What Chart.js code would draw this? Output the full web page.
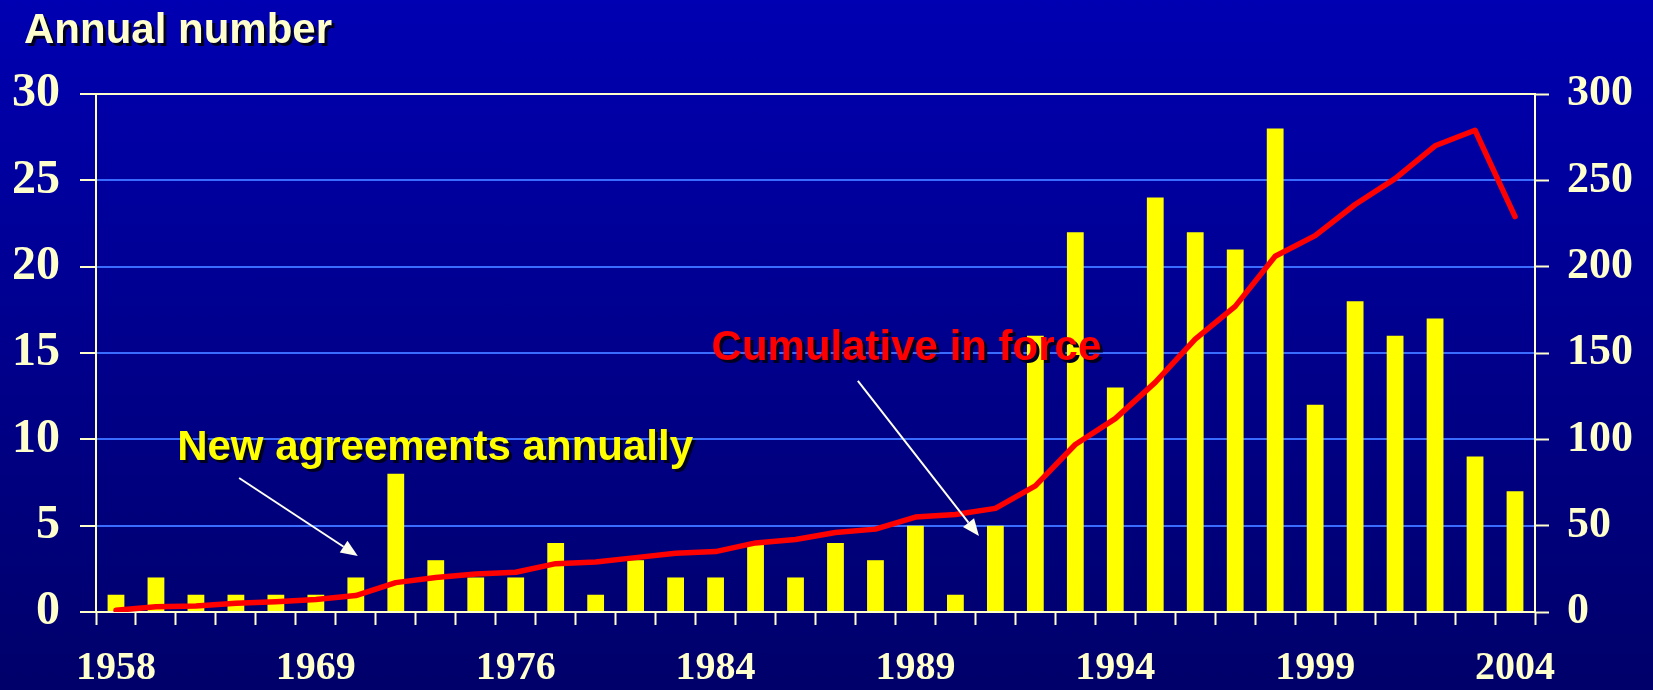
<!DOCTYPE html>
<html><head><meta charset="utf-8">
<script src="https://cdn.jsdelivr.net/npm/chart.js@4/dist/chart.umd.min.js"></script>
<style>
html,body{margin:0;padding:0;width:1653px;height:690px;overflow:hidden;
background:linear-gradient(to bottom,#0000b2 0%,#000090 45%,#00006a 100%);}
canvas{display:block}
</style></head><body>
<canvas id="c" width="1653" height="690"></canvas>
<script>
// ---- data ----
const tickLabels = ['1958','1969','1976','1984','1989','1994','1999','2004'];
const labelEvery = 5;
const categoryCount = 36;
const newAgreements = [1,2,1,1,1,1,2,8,3,2,2,4,1,3,2,2,4,2,4,3,5,1,5,16,22,13,24,22,21,28,12,18,16,17,9,7];
const cumulativeInForce = [1,3,3.5,5,6,7.3,9.5,17,20,22,23,28,29,31.5,34,35,40,42,46,48,55,56.5,60,73,97,112,133,158,177,206,218,236,251,270,279,229];
const leftTicks = [0,5,10,15,20,25,30];
const rightTicks = [0,50,100,150,200,250,300];

const categories = [];
for (let i = 0; i < categoryCount; i++) categories.push(i % labelEvery === 0 ? tickLabels[i / labelEvery] : '');

const CREAM = '#ffffcc';
const GRID = '#3a6cff';

const annotations = {
  id: 'annotations',
  afterDatasetsDraw(chart) {
    const ctx = chart.ctx;
    const xs = chart.scales.x, ys = chart.scales.y;
    const X = c => xs.left + (c + 0.5) * xs.width / categoryCount;
    const Y = v => ys.getPixelForValue(v);
    function shadowText(t, x, y, color) {
      ctx.save();
      ctx.font = 'bold 42px "Liberation Sans", Arial, sans-serif';
      ctx.textBaseline = 'alphabetic';
      ctx.textAlign = 'left';
      ctx.fillStyle = '#000022';
      ctx.fillText(t, x + 3, y + 3);
      ctx.fillStyle = color;
      ctx.fillText(t, x, y);
      ctx.restore();
    }
    function arrow(x1, y1, x2, y2) {
      ctx.save();
      ctx.strokeStyle = '#ffffee';
      ctx.fillStyle = '#ffffee';
      ctx.lineWidth = 2;
      const a = Math.atan2(y2 - y1, x2 - x1);
      const L = 17, W = 7;
      const bx = x2 - L * Math.cos(a), by = y2 - L * Math.sin(a);
      ctx.beginPath(); ctx.moveTo(x1, y1); ctx.lineTo(bx, by); ctx.stroke();
      ctx.beginPath();
      ctx.moveTo(x2, y2);
      ctx.lineTo(bx + W * Math.sin(a), by - W * Math.cos(a));
      ctx.lineTo(bx - W * Math.sin(a), by + W * Math.cos(a));
      ctx.closePath(); ctx.fill();
      ctx.restore();
    }
    shadowText('Annual number', 24, 43, CREAM);
    shadowText('New agreements annually', X(1.53), Y(8.8), '#ffff00');
    shadowText('Cumulative in force', X(14.9), Y(14.6), '#ff0000');
    arrow(X(3.08), Y(7.76), X(6.05), Y(3.24));
    arrow(X(18.56), Y(13.38), X(21.59), Y(4.4));
  }
};

new Chart(document.getElementById('c'), {
  data: {
    labels: categories,
    datasets: [
      { type: 'line', label: 'Cumulative in force', data: cumulativeInForce, yAxisID: 'y1',
        borderColor: '#ff0000', borderWidth: 5.5, pointRadius: 0, tension: 0,
        borderCapStyle: 'round', borderJoinStyle: 'round', order: 0 },
      { type: 'bar', label: 'New agreements annually', data: newAgreements, yAxisID: 'y',
        backgroundColor: '#ffff00', barPercentage: 0.42, categoryPercentage: 1, order: 1 }
    ]
  },
  options: {
    responsive: false, animation: false, devicePixelRatio: 1,
    layout: { padding: { top: 94, left: 0, right: 0, bottom: 0 } },
    plugins: { legend: { display: false }, tooltip: { enabled: false }, title: { display: false } },
    scales: {
      x: {
        type: 'category', offset: true,
        grid: { offset: true, drawOnChartArea: false, tickLength: 13, tickColor: CREAM, tickWidth: 2 },
        border: { color: CREAM, width: 2 },
        ticks: { autoSkip: false, maxRotation: 0, minRotation: 0, color: CREAM, padding: 20,
          font: { family: '"Liberation Serif", "Times New Roman", serif', weight: 'bold', size: 40 } },
        afterFit(s) { s.height = 78; }
      },
      y: {
        position: 'left', min: 0, max: 30,
        afterBuildTicks(s) { s.ticks = leftTicks.map(v => ({ value: v })); },
        grid: { color: c => (c.tick && (c.tick.value === 0 || c.tick.value === 30)) ? CREAM : GRID,
                lineWidth: 2, tickLength: 16, tickColor: CREAM, tickWidth: 2 },
        border: { color: CREAM, width: 2 },
        ticks: { color: CREAM, padding: 20,
          font: { family: '"Liberation Serif", "Times New Roman", serif', weight: 'bold', size: 48 } },
        afterFit(s) { s.width = 96; }
      },
      y1: {
        position: 'right', min: 0, max: 300,
        afterBuildTicks(s) { s.ticks = rightTicks.map(v => ({ value: v })); },
        grid: { drawOnChartArea: false, tickLength: 14, tickColor: CREAM, tickWidth: 2 },
        border: { color: CREAM, width: 2 },
        ticks: { color: CREAM, padding: 18,
          font: { family: '"Liberation Serif", "Times New Roman", serif', weight: 'bold', size: 44 } },
        afterFit(s) { s.width = 118; }
      }
    }
  },
  plugins: [annotations]
});
</script>
</body></html>
